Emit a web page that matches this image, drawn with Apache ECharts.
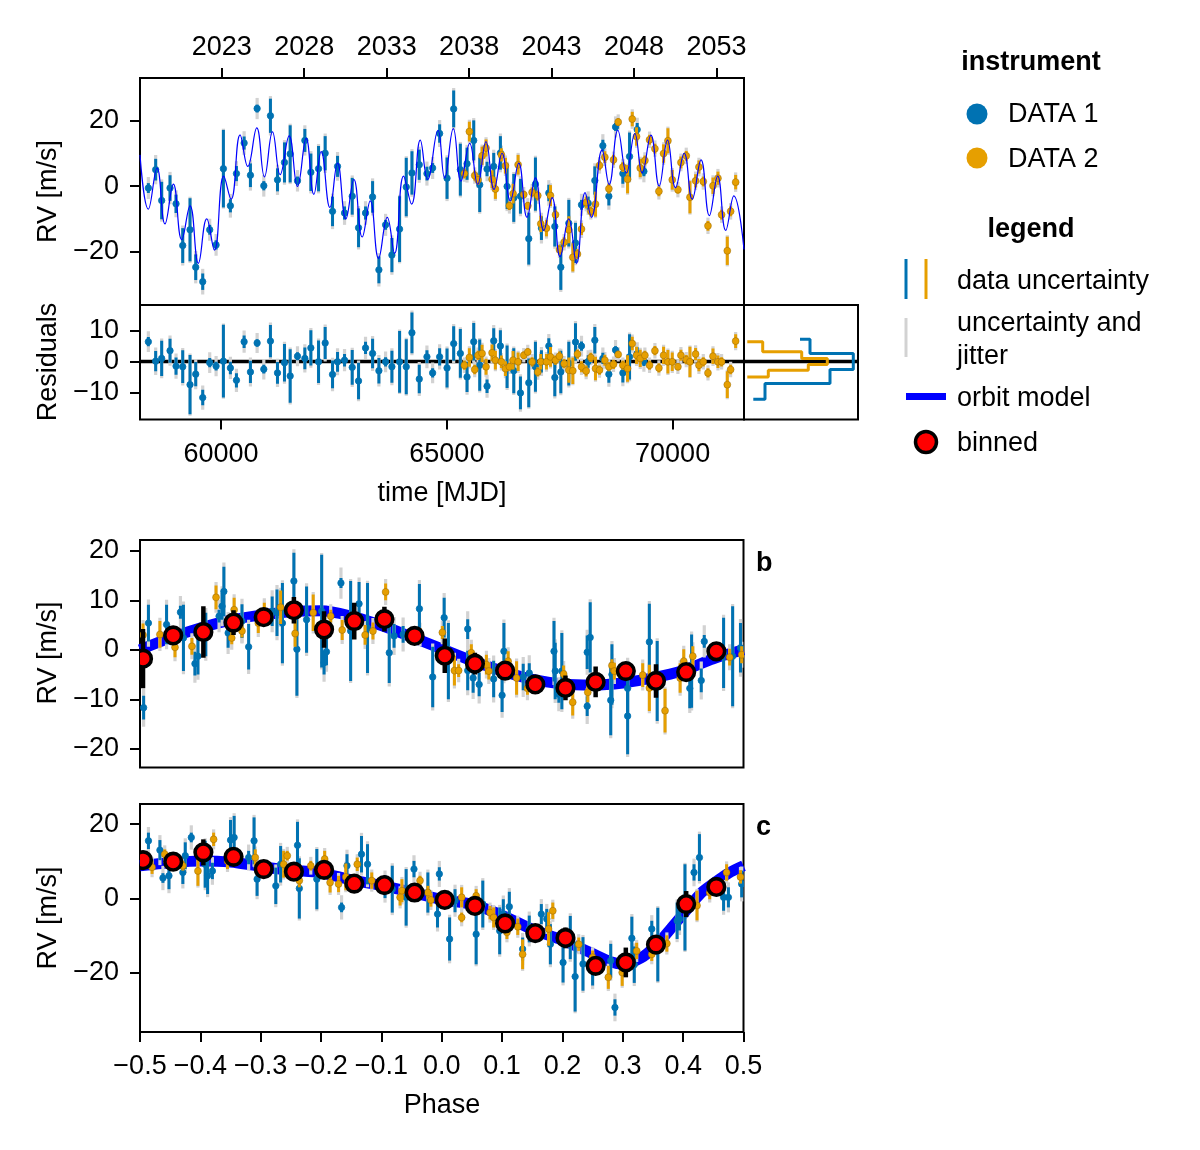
<!DOCTYPE html>
<html><head><meta charset="utf-8">
<script src="https://cdn.jsdelivr.net/npm/echarts@6/dist/echarts.min.js"></script>
<style>html,body{margin:0;padding:0;background:#fff}#c{width:1200px;height:1150px}</style>
</head><body><div id="c"></div>
<script>
const FONT = '"Liberation Sans", Arial, Helvetica, sans-serif';
const BLUE = '#0072B2', ORANGE = '#E69F00';

// ---------------- DATA 1 (time series) ----------------
const data1Time = [58389,58551,58684,58869,59002,59150,59312,59438,59593,59748,59889,60051,60206,60340,60510,60650,60798,60946,61093,61249,61404,61530,61692,61855,61988,62158,62305,62468,62579,62734,62904,63044,63199,63355,63495,63643,63783,63953,64101,64227,64389,64559,64685,64840,
 65004,65151,65299,65447,65595,65728,65890,66038,66186,66334,66482,66630,66814,66962,67095,67258,67391,67524,67701,67849,67982,68130,68277,68455,68588,68736,68898,69046,69216,69364];
const data1RV = [-0.6,5.0,-4.4,-0.6,-5.4,-18.1,-13.3,-24.7,-29.1,-13.3,-17.9,5.3,-6.0,3.8,13.1,3.3,23.6,0.1,21.4,1.9,7.2,9.8,1.6,13.9,4.2,5.3,10.0,-7.7,6.0,-8.2,-3.1,-12.7,-8.2,-3.3,-25.5,-11.8,-21.0,-13.1,-0.3,4.0,6.5,3.8,5.5,16.0,
 2.4,23.5,5.0,6.8,13.9,0.4,5.2,6.0,10.1,-0.1,-3.6,-3.1,-16.0,0.6,-12.8,-2.1,-12.3,-24.7,-11.3,-17.3,-5.7,-5.2,1.7,12.3,-3.1,18.0,3.8,9.0,17.2,4.5];
const data1Err = [1.5,3.3,5.7,3.9,2.8,5.3,9.6,3.9,2.5,1.5,1.4,11.8,2.0,2.3,2.0,3.6,1.2,1.4,5.2,3.5,6.1,8.7,1.3,3.5,5.7,6.9,5.2,4.5,3.2,2.0,5.6,5.9,2.0,4.8,4.1,1.5,5.2,10.0,8.9,6.6,4.6,2.1,1.5,2.8,
 6.3,5.6,7.9,4.9,6.1,8.3,2.2,4.1,5.1,6.9,7.3,5.3,7.9,8.1,3.6,2.5,6.1,6.9,7.1,6.1,1.5,2.0,4.3,1.8,2.8,1.2,3.1,7.3,2.0,1.5];
const data1Resid = [6.4,0.1,1.0,3.5,-1.5,-1.7,-7.5,-4.1,-11.7,-0.4,-1.5,0.1,-2.1,-6.1,6.4,-3.4,6.0,-2.5,6.6,-3.7,-0.4,-4.7,1.7,1.0,4.4,-0.1,6.0,-4.2,-0.1,0.4,-1.9,-6.3,4.4,2.6,-3.0,-0.1,-1.7,-0.1,-1.7,9.3,-5.7,1.5,-3.7,1.5,
 -2.1,5.8,2.6,-5.0,6.4,-1.2,-8.0,6.7,5.0,-1.7,-3.0,-10.2,-6.9,-1.7,0.0,5.0,-5.2,-3.4,-0.7,6.3,5.0,0.0,6.9,1.0,-4.1,3.7,-3.7,1.5,2.6,0.0];

// ---------------- DATA 2 (time series) ----------------
const data2Time = [65388,65499,65617,65691,65780,65868,66001,66075,66208,66297,66386,66467,66578,66703,66792,66888,67014,67080,67206,67295,67406,67494,67597,67701,67790,67893,67982,68085,68189,68292,68381,68499,68588,68691,68795,68898,69002,69106,69201,69283,69386,69489,69608,69696,69800,69896,69992,70117,70184,70302,70384,70509,70583,70679,70783,70894,71004,71085,71211,71285,71396];
const data2RV = [3.8,16.6,3.2,1.9,9.2,11.6,2.1,-0.9,9.5,6.2,-6.0,-2.3,6.5,-2.6,-6.0,-1.9,-2.9,-11.5,-12.8,-2.9,-8.7,-19.4,-17.1,-13.3,-21.7,-20.7,-13.1,-5.0,-7.7,-5.5,6.3,8.8,-0.8,8.0,19.5,5.8,2.1,20.4,15.1,5.5,7.8,14.1,11.4,-1.6,9.9,13.8,1.9,-1.1,7.2,9.2,-3.4,1.6,5.8,1.4,-12.1,0.1,2.4,-8.7,-19.7,-7.7,1.2];
const data2Err = [1.5,3.0,1.5,1.5,2.8,2.6,2.7,3.0,2.0,2.4,1.3,3.0,3.0,1.2,1.2,1.5,1.5,2.5,2.5,3.2,1.5,1.5,1.5,4.1,4.3,1.5,1.8,1.8,1.5,3.8,1.5,1.8,1.5,1.5,1.2,1.5,4.3,2.2,2.8,2.8,1.5,1.5,1.5,1.5,2.8,3.8,3.0,1.2,1.8,1.5,4.9,2.0,2.0,1.5,1.5,2.5,2.0,1.5,4.3,1.5,2.2];
const data2Resid = [-1.2,1.3,-2.6,2.0,2.6,-1.7,2.8,0.4,-0.1,-2.3,-1.7,0.4,-0.1,2.0,3.1,-0.1,-3.4,-0.1,-0.1,1.5,0.4,1.7,-0.7,-2.8,-3.0,2.4,-1.7,-3.1,1.3,-2.3,-2.8,0.4,-1.7,-0.9,2.3,-1.2,-2.3,5.8,2.0,1.0,2.0,-1.2,3.5,-2.1,2.0,-0.1,-0.1,-1.7,2.0,0.6,-0.1,2.4,-1.2,-0.1,-3.7,1.7,-0.1,-0.1,-7.5,-2.6,6.6];

const jitter1 = 3.0, jitter2 = 2.0;

// ---------------- orbit model (time series) ----------------
const modelTime = [58204,58389,58581,58758,58943,59128,59312,59497,59682,59852,60059,60221,60421,60591,60790,60960,61138,61308,61507,61692,61884,62054,62217,62409,62579,62763,62941,63126,63303,63488,63680,63843,64042,64219,64411,64574,64803,64951,65143,65313,65506,65683,65866,66045,66222,66406,66592,66776,66961,67146,67331,67508,67700,67870,68062,68202,68438,68594,68786,68978,69163,69326,69519,69702,69887,70064,70257,70434,70629,70814,70998,71176,71356,71581];
const modelRV = [9.5,-7.0,5.5,-11.5,0.6,-16.3,-6.0,-23.5,-10.0,-19.5,3.0,-4.0,15.6,6.0,17.7,2.8,16.5,3.5,15.3,-0.1,14.5,-2.5,10.5,-6.5,7.0,-10.0,2.0,-15.5,-4.5,-22.0,-9.5,-20.5,3.0,-5.5,14.0,2.0,17.0,2.5,17.5,1.5,13.0,0.5,13.5,-1.0,10.0,-4.5,7.0,-9.5,2.5,-13.5,-3.5,-21.5,-10.0,-23.5,-2.0,-9.5,11.0,0.5,17.0,4.0,16.0,4.0,15.5,0.0,14.0,-0.5,10.0,-4.0,8.0,-9.0,3.0,-13.5,-3.0,-19.3];

// ---------------- residual histograms ----------------
const histBlueEdges = [7.24,2.6,-2.6,-7.14,-12.24];
const histBlueDensity = [0.56,0.66,1.093,0.86,0.21,0.093];
const histOrangeEdges = [6.36,3.12,0.97,-0.97,-2.82,-5.0];
const histOrangeDensity = [0.033,0.187,0.577,0.833,0.643,0.243,0.033];

// ---------------- phase-folded planet b: [phase, rv, err] ----------------
const bData1 = [[-0.494,-11.7,2.4],[-0.486,5.4,3.7],[-0.456,5.1,4.0],[-0.433,7.6,1.3],[-0.428,2.4,6.7],[-0.409,-2.8,2.4],[-0.404,-1.3,3.7],[-0.391,3.1,4.4],[-0.369,6.8,1.3],[-0.364,8.8,2.7],[-0.361,11.8,5.0],[-0.354,3.4,3.0],[-0.331,5.8,3.4],[-0.320,0.6,4.6],[-0.281,7.8,3.0],[-0.273,7.5,4.7],[-0.264,5.4,8.1],[-0.245,13.9,5.7],[-0.240,0.1,9.4],[-0.224,6.1,6.7],[-0.199,7.8,11.4],[-0.195,-2.6,2.4],[-0.191,-0.4,2.7],[-0.167,13.5,1.0],[-0.151,3.8,10.1],[-0.137,9.3,4.4],[-0.123,4.4,9.1],[-0.087,-0.6,6.1],[-0.079,2.8,2.4],[-0.064,3.1,1.7],[-0.037,8.3,5.0],[-0.015,-5.5,6.1],[0.004,6.5,4.0],
 [0.011,-2.3,7.7],[0.043,4.2,2.0],[0.043,-4.2,4.0],[0.052,-5.7,3.0],[0.062,-7.0,2.4],[0.086,-5.9,3.7],[0.100,-9.2,3.4],[0.103,-0.3,5.7],[0.135,-5.5,2.7],[0.145,-4.7,2.0],[0.186,-0.3,6.1],[0.188,-4.3,5.7],[0.194,-9.0,1.7],[0.199,-4.3,7.7],[0.241,-0.5,3.4],[0.246,2.5,7.1],[0.241,-11.4,2.0],[0.280,-10.2,7.1],[0.282,-5.0,6.1],[0.308,-13.4,7.7],[0.308,-7.8,5.4],[0.344,1.6,7.7],[0.357,-6.3,8.1],[0.411,-7.8,4.0],[0.414,-4.3,7.4],[0.430,-6.2,2.4],[0.435,1.7,1.3],[0.467,-0.6,7.1],[0.482,-1.3,10.1],[0.495,0.4,5.0]];
const bData2 = [[-0.495,3.0,2.3],[-0.467,3.1,2.7],[-0.442,0.5,2.0],[-0.414,0.7,1.7],[-0.374,10.6,2.4],[-0.348,2.4,1.3],[-0.344,8.1,2.4],[-0.331,3.8,1.3],[-0.304,5.4,2.0],[-0.294,7.8,1.7],[-0.267,8.6,3.4],[-0.243,3.3,2.7],[-0.213,7.5,3.7],[-0.184,6.8,1.3],[-0.165,4.0,2.0],[-0.127,3.0,2.0],[-0.114,3.8,1.7],[-0.093,11.7,1.7],[-0.036,3.1,1.3],[0.001,3.5,1.3],
 [0.021,-4.2,3.0],[0.028,-4.2,1.3],[0.049,-0.6,1.7],[0.074,-3.0,2.0],[0.078,-4.3,1.7],[0.110,-2.3,2.0],[0.124,-5.7,3.4],[0.142,-7.8,1.3],[0.202,-4.9,1.7],[0.217,-10.6,2.7],[0.242,-8.6,2.0],[0.282,-3.2,1.3],[0.286,-4.3,1.7],[0.333,-5.1,2.4],[0.344,-7.7,4.7],[0.370,-12.3,4.4],[0.395,-5.7,3.0],[0.401,-2.3,2.4],[0.416,-1.3,2.0],[0.477,-1.5,1.7],[0.497,-1.0,1.7]];
const bModelPhase = [-0.5,-0.45,-0.4,-0.35,-0.3,-0.25,-0.2,-0.15,-0.1,-0.05,0.0,0.05,0.1,0.15,0.2,0.25,0.3,0.35,0.4,0.45,0.5];
const bModelRV = [0.0,2.4,4.4,6.0,7.0,7.7,7.9,6.8,4.9,2.6,0.2,-2.2,-4.3,-6.0,-6.9,-7.1,-6.7,-5.7,-4.2,-1.8,0.0];

// ---------------- phase-folded planet c: [phase, rv, err] ----------------
const cData1 = [[-0.486,15.5,2.2],[-0.467,13.0,2.7],[-0.462,5.5,1.3],[-0.452,6.1,3.6],[-0.429,7.0,3.1],[-0.425,11.5,3.6],[-0.415,16.4,1.3],[-0.392,9.2,6.3],[-0.388,6.1,4.9],[-0.380,7.4,2.2],[-0.350,15.7,5.4],[-0.344,16.4,5.8],[-0.320,11.0,1.8],[-0.311,15.5,6.3],[-0.306,5.2,4.5],[-0.275,3.4,4.9],[-0.267,9.2,4.9],[-0.239,14.3,6.3],[-0.236,2.7,8.1],[-0.207,5.2,8.1],[-0.166,-2.4,1.3],[-0.157,8.8,3.1],[-0.133,11.9,4.9],[-0.123,9.2,5.4],[-0.094,3.2,3.1],[-0.082,2.5,6.3],[-0.059,0.3,7.6],[-0.046,7.9,2.2],[-0.023,1.6,5.4],[-0.007,-4.2,3.6],[-0.004,6.6,1.8],
 [0.013,-10.9,5.8],[0.022,-0.6,3.1],[0.057,-9.6,8.1],[0.068,-1.5,6.3],[0.096,-8.7,6.3],[0.102,-4.2,4.0],[0.112,-2.2,4.0],[0.134,-13.6,3.1],[0.145,-8.2,3.6],[0.165,-4.2,2.7],[0.174,-5.5,2.7],[0.180,-12.3,5.4],[0.201,-17.2,5.4],[0.213,-10.5,5.8],[0.221,-21.0,9.4],[0.234,-17.6,7.2],[0.250,-19.4,4.0],[0.280,-16.7,4.5],[0.287,-29.3,2.2],[0.315,-10.7,5.8],[0.319,-17.8,4.9],[0.348,-8.2,2.2],[0.358,-12.4,9.9],[0.390,-6.0,4.9],[0.394,-5.5,3.1],[0.403,-2.4,11.6],[0.418,7.0,2.2],[0.427,11.0,6.3],[0.467,0.3,3.6],[0.475,0.3,2.7],[0.497,3.9,3.6]];
const cData2 = [[-0.480,8.4,1.8],[-0.459,11.9,1.3],[-0.429,8.8,1.3],[-0.404,7.4,4.0],[-0.378,15.9,1.8],[-0.355,10.1,2.2],[-0.309,11.0,2.2],[-0.262,9.2,3.6],[-0.256,11.5,1.3],[-0.236,4.8,1.8],[-0.217,8.8,1.3],[-0.194,10.6,2.2],[-0.185,4.3,2.7],[-0.171,3.9,2.2],[-0.159,5.8,3.6],[-0.140,9.2,1.8],[-0.116,4.8,2.2],[-0.069,0.3,2.2],[-0.066,2.1,3.1],[-0.036,4.8,1.3],[-0.023,1.6,1.8],[-0.018,-0.4,1.8],
 [0.033,0.3,2.7],[0.033,-5.1,1.3],[0.057,0.7,1.8],[0.080,-3.8,1.8],[0.086,-5.1,2.7],[0.108,-9.1,1.8],[0.126,-7.6,2.2],[0.134,-15.0,4.0],[0.177,-8.2,4.5],[0.184,-3.3,2.2],[0.227,-12.3,1.8],[0.250,-15.8,1.8],[0.276,-21.2,3.1],[0.299,-19.9,3.6],[0.323,-14.1,2.2],[0.348,-15.0,1.8],[0.373,-12.1,2.2],[0.423,-1.9,4.0],[0.444,1.6,1.8],[0.472,7.0,2.2],[0.495,5.8,1.8]];
const cModelPhase = [-0.5,-0.45,-0.4,-0.35,-0.3,-0.25,-0.2,-0.15,-0.1,-0.05,0.0,0.05,0.1,0.15,0.2,0.25,0.28,0.3,0.33,0.356,0.38,0.406,0.43,0.45,0.475,0.5];
const cModelRV = [8.8,9.6,10.1,9.8,8.6,7.6,6.9,5.0,3.5,1.7,-0.3,-1.6,-4.5,-8.3,-11.2,-14.8,-17.0,-17.6,-16.0,-12.5,-8.0,-3.0,1.5,4.0,6.8,8.8];

// ---------------- binned ----------------
const binPhase = [-0.495,-0.445,-0.395,-0.345,-0.295,-0.245,-0.195,-0.145,-0.095,-0.045,0.005,0.055,0.105,0.155,0.205,0.255,0.305,0.355,0.405,0.455];
const bBinRV = [-1.8,2.9,3.6,5.5,6.6,8.0,4.1,5.8,6.2,2.8,-1.2,-2.8,-4.2,-7.0,-7.7,-6.5,-4.3,-6.3,-4.5,-0.3];
const bBinErr = [6.0,1.5,5.2,2.5,1.5,2.7,3.7,3.7,2.5,1.5,3.5,2.2,1.5,1.5,2.5,3.1,1.5,3.4,1.5,1.5];
const cBinRV = [10.3,9.9,12.4,11.2,7.9,7.2,7.7,4.0,3.6,1.6,-0.4,-2.0,-6.7,-9.3,-10.6,-18.1,-17.2,-12.4,-1.5,3.1];
const cBinErr = [2.5,1.5,3.5,2.0,1.5,2.2,1.5,2.0,1.5,1.5,2.0,1.5,2.0,2.0,2.8,1.5,4.0,1.5,3.5,2.0];

// ---------------- ticks ----------------
const yearTicks = [2023,2028,2033,2038,2043,2048,2053];
const mjdOf2023 = 60015, daysPerYear = 365.25;
const mjdTicks = [60000,65000,70000];
const phaseTicks = [-0.5,-0.4,-0.3,-0.2,-0.1,0.0,0.1,0.2,0.3,0.4,0.5];
const rvTicksTop = [-20,0,20];
const residTicks = [-10,0,10];
const rvTicksB = [-20,-10,0,10,20];
const rvTicksC = [-20,0,20];

// ---------------- build ----------------
const mjdMin = 58204, mjdMax = 71581;
const yearMJD = yearTicks.map(y => mjdOf2023 + (y - 2023) * daysPerYear);
const minus = v => String(v).replace('-', '\u2212');

function rowsTS(t, v, e, jit) { return t.map((x, i) => [x, v[i], e[i], Math.sqrt(e[i]*e[i] + jit*jit)]); }
function rowsPh(arr, jit) { return arr.map(r => [r[0], r[1], r[2], Math.sqrt(r[2]*r[2] + jit*jit)]); }
function zip(a, b) { return a.map((x, i) => [x, b[i]]); }
function stairs(edges, dens) {
  const pts = [];
  for (let i = 0; i < edges.length; i++) { pts.push([dens[i], edges[i]]); pts.push([dens[i+1], edges[i]]); }
  return pts;
}

function grayItem(params, api) {
  const x = api.value(0), y = api.value(1), t = api.value(3);
  const p1 = api.coord([x, y + t]), p2 = api.coord([x, y - t]);
  return { type: 'line', shape: { x1: p1[0], y1: p1[1], x2: p2[0], y2: p2[1] },
           style: { stroke: '#d2d2d2', lineWidth: 3.2 } };
}
function colorItem(color, stroke, r) {
  return function (params, api) {
    const x = api.value(0), y = api.value(1), e = api.value(2);
    const c = api.coord([x, y]), p1 = api.coord([x, y + e]), p2 = api.coord([x, y - e]);
    return { type: 'group', children: [
      { type: 'line', shape: { x1: p1[0], y1: p1[1], x2: p2[0], y2: p2[1] }, style: { stroke: color, lineWidth: 3 } },
      { type: 'circle', shape: { cx: c[0], cy: c[1], r: r }, style: { fill: color, stroke: stroke, lineWidth: 0.8 } }
    ]};
  };
}
function binItem(params, api) {
  const x = api.value(0), y = api.value(1), e = api.value(2);
  const c = api.coord([x, y]), p1 = api.coord([x, y + e]), p2 = api.coord([x, y - e]);
  return { type: 'group', children: [
    { type: 'line', shape: { x1: p1[0], y1: p1[1], x2: p2[0], y2: p2[1] }, style: { stroke: '#000', lineWidth: 4.5 } },
    { type: 'circle', shape: { cx: c[0], cy: c[1], r: 8.3 }, style: { fill: '#ff0000', stroke: '#000', lineWidth: 3.6 } }
  ]};
}
function pointSeries(xi, yi, rows, color, stroke, r) {
  return [
    { type: 'custom', xAxisIndex: xi, yAxisIndex: yi, data: rows, clip: true, z: 2, silent: true, renderItem: grayItem },
    { type: 'custom', xAxisIndex: xi, yAxisIndex: yi, data: rows, clip: true, z: 3, silent: true, renderItem: colorItem(color, stroke, r) }
  ];
}

const labelStyle = { show: true, color: '#000', fontSize: 27, fontFamily: FONT };
const tickStyle = (cv, len) => ({ show: true, inside: false, length: len || 10, lineStyle: { color: '#000', width: 2 }, customValues: cv });
const hidden = { type: 'value', splitLine: { show: false }, axisLine: { show: false, onZero: false }, axisTick: { show: false }, axisLabel: { show: false } };
function tickedY(grid, min, max, ticks) {
  return Object.assign({}, hidden, { gridIndex: grid, min, max, axisTick: tickStyle(ticks),
    axisLabel: Object.assign({}, labelStyle, { customValues: ticks, margin: 21, formatter: v => minus(v) }) });
}
const gridBase = { show: true, borderColor: '#000', borderWidth: 2, backgroundColor: 'transparent', containLabel: false, outerBoundsMode: 'none' };

const option = {
  animation: false,
  backgroundColor: '#fff',
  grid: [
    Object.assign({ left: 140, top: 78, width: 604, height: 227 }, gridBase),
    Object.assign({ left: 140, top: 305, width: 604, height: 114.5 }, gridBase),
    Object.assign({ left: 744, top: 305, width: 114, height: 114.5 }, gridBase),
    Object.assign({ left: 140, top: 540, width: 603.5, height: 227.5 }, gridBase),
    Object.assign({ left: 140, top: 804, width: 603.5, height: 228 }, gridBase)
  ],
  xAxis: [
    Object.assign({}, hidden, { gridIndex: 0, min: mjdMin, max: mjdMax }),
    Object.assign({}, hidden, { gridIndex: 0, position: 'top', min: mjdMin, max: mjdMax, axisTick: tickStyle(yearMJD),
      axisLabel: Object.assign({}, labelStyle, { customValues: yearMJD, margin: 17,
        formatter: v => { for (let i = 0; i < yearMJD.length; i++) if (Math.abs(v - yearMJD[i]) < 1) return String(yearTicks[i]); return ''; } }) }),
    Object.assign({}, hidden, { gridIndex: 1, min: mjdMin, max: mjdMax, axisTick: tickStyle(mjdTicks),
      axisLabel: Object.assign({}, labelStyle, { customValues: mjdTicks, margin: 22, formatter: v => String(v) }) }),
    Object.assign({}, hidden, { gridIndex: 2, min: 0, max: 1.14 }),
    Object.assign({}, hidden, { gridIndex: 3, min: -0.5, max: 0.5 }),
    Object.assign({}, hidden, { gridIndex: 4, min: -0.5, max: 0.5, axisTick: tickStyle(phaseTicks),
      axisLabel: Object.assign({}, labelStyle, { customValues: phaseTicks, margin: 21,
        formatter: v => Math.abs(v) < 1e-9 ? '0.0' : minus(v.toFixed(1)) }) })
  ],
  yAxis: [
    tickedY(0, -36.2, 32.9, rvTicksTop),
    tickedY(1, -18.8, 18.3, residTicks),
    Object.assign({}, hidden, { gridIndex: 2, min: -18.8, max: 18.3 }),
    tickedY(3, -23.8, 22.2, rvTicksB),
    tickedY(4, -35.9, 25.4, rvTicksC)
  ],
  series: [].concat(
    pointSeries(0, 0, rowsTS(data1Time, data1RV, data1Err, jitter1), BLUE, BLUE, 3.2),
    pointSeries(0, 0, rowsTS(data2Time, data2RV, data2Err, jitter2), ORANGE, 'rgba(120,80,0,0.45)', 3.5),
    [{ type: 'line', xAxisIndex: 0, yAxisIndex: 0, data: zip(modelTime, modelRV), showSymbol: false, smooth: 0.45,
       lineStyle: { color: '#0000ff', width: 1.2 }, z: 5, silent: true }],
    [{ type: 'line', xAxisIndex: 2, yAxisIndex: 1, data: [[mjdMin, 0], [mjdMax, 0]], showSymbol: false,
       lineStyle: { color: '#000', width: 3.5 }, z: 1, silent: true },
     { type: 'line', xAxisIndex: 3, yAxisIndex: 2, data: [[0, 0], [1.14, 0]], showSymbol: false,
       lineStyle: { color: '#000', width: 3.5 }, z: 1, silent: true }],
    pointSeries(2, 1, rowsTS(data1Time, data1Resid, data1Err, jitter1), BLUE, BLUE, 3.2),
    pointSeries(2, 1, rowsTS(data2Time, data2Resid, data2Err, jitter2), ORANGE, 'rgba(120,80,0,0.45)', 3.5),
    [{ type: 'line', xAxisIndex: 3, yAxisIndex: 2, data: stairs(histBlueEdges, histBlueDensity), showSymbol: false,
       lineStyle: { color: BLUE, width: 3 }, z: 3, silent: true },
     { type: 'line', xAxisIndex: 3, yAxisIndex: 2, data: stairs(histOrangeEdges, histOrangeDensity), showSymbol: false,
       lineStyle: { color: ORANGE, width: 3 }, z: 3, silent: true }],
    [{ type: 'line', xAxisIndex: 4, yAxisIndex: 3, data: zip(bModelPhase, bModelRV), showSymbol: false, smooth: 0.3,
       lineStyle: { color: '#0000ff', width: 11 }, z: 1, silent: true }],
    pointSeries(4, 3, rowsPh(bData1, jitter1), BLUE, BLUE, 3.2),
    pointSeries(4, 3, rowsPh(bData2, jitter2), ORANGE, 'rgba(120,80,0,0.45)', 3.5),
    [{ type: 'custom', xAxisIndex: 4, yAxisIndex: 3, data: binPhase.map((p, i) => [p, bBinRV[i], bBinErr[i]]), clip: true, z: 6, silent: true, renderItem: binItem }],
    [{ type: 'line', xAxisIndex: 5, yAxisIndex: 4, data: zip(cModelPhase, cModelRV), showSymbol: false, smooth: 0.3,
       lineStyle: { color: '#0000ff', width: 11 }, z: 1, silent: true }],
    pointSeries(5, 4, rowsPh(cData1, jitter1), BLUE, BLUE, 3.2),
    pointSeries(5, 4, rowsPh(cData2, jitter2), ORANGE, 'rgba(120,80,0,0.45)', 3.5),
    [{ type: 'custom', xAxisIndex: 5, yAxisIndex: 4, data: binPhase.map((p, i) => [p, cBinRV[i], cBinErr[i]]), clip: true, z: 6, silent: true, renderItem: binItem }]
  ),
  graphic: (function () {
    const f = (w) => (w ? 'bold ' : '') + '27px ' + FONT;
    const txt = (s, x, y, opt) => Object.assign({ type: 'text', x, y: y + 2, silent: true,
      style: { text: s, font: f(opt && opt.bold), fill: '#000', align: (opt && opt.align) || 'left', verticalAlign: 'middle' } },
      opt && opt.rot ? { rotation: Math.PI / 2, x: x + 1, y: y } : {});
    return [
      txt('RV [m/s]', 48, 191.5, { align: 'center', rot: true }),
      txt('Residuals', 48, 362, { align: 'center', rot: true }),
      txt('time [MJD]', 442, 492, { align: 'center' }),
      txt('RV [m/s]', 48, 653, { align: 'center', rot: true }),
      txt('RV [m/s]', 48, 918, { align: 'center', rot: true }),
      txt('Phase', 442, 1104, { align: 'center' }),
      txt('b', 756, 562, { bold: true }),
      txt('c', 756, 826, { bold: true }),
      // legend
      txt('instrument', 1031, 61, { bold: true, align: 'center' }),
      { type: 'circle', shape: { cx: 977, cy: 114, r: 10.5 }, style: { fill: BLUE }, silent: true },
      txt('DATA 1', 1008, 113),
      { type: 'circle', shape: { cx: 977, cy: 158, r: 10.5 }, style: { fill: ORANGE }, silent: true },
      txt('DATA 2', 1008, 157.5),
      txt('legend', 1031, 228, { bold: true, align: 'center' }),
      { type: 'line', shape: { x1: 906, y1: 259, x2: 906, y2: 299 }, style: { stroke: BLUE, lineWidth: 3 }, silent: true },
      { type: 'line', shape: { x1: 926, y1: 259, x2: 926, y2: 299 }, style: { stroke: ORANGE, lineWidth: 3 }, silent: true },
      txt('data uncertainty', 957, 280),
      { type: 'line', shape: { x1: 906, y1: 318, x2: 906, y2: 357 }, style: { stroke: '#d2d2d2', lineWidth: 3 }, silent: true },
      txt('uncertainty and', 957, 322),
      txt('jitter', 957, 355),
      { type: 'line', shape: { x1: 906, y1: 396.5, x2: 946, y2: 396.5 }, style: { stroke: '#0000ff', lineWidth: 7 }, silent: true },
      txt('orbit model', 957, 397),
      { type: 'circle', shape: { cx: 926, cy: 442, r: 10.5 }, style: { fill: '#ff0000', stroke: '#000', lineWidth: 3.5 }, silent: true },
      txt('binned', 957, 442)
    ];
  })()
};

const chart = echarts.init(document.getElementById('c'));
chart.setOption(option);
</script>
</body></html>
